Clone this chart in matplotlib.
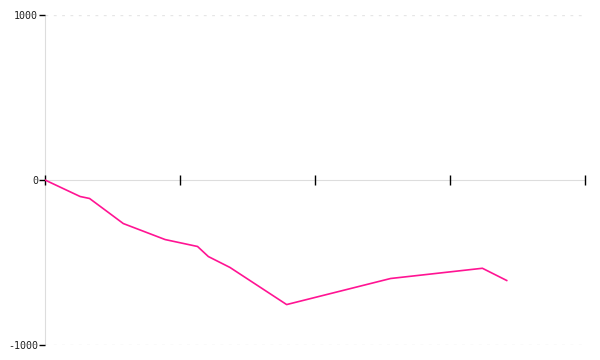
import matplotlib
matplotlib.use("Agg")
from matplotlib import pyplot as plt

# values (x on a 0..400 scale, ticks every 100)
x_vals = [0, 26, 33, 47, 58, 89, 113, 121, 137, 179, 256, 324, 342]
y_vals = [0, -100, -112, -197, -264, -361, -403, -464, -530, -755, -597, -535, -609]
x_ticks = [0, 100, 200, 300, 400]
y_ticks = [-1000, 0, 1000]

plt.rcParams['font.family'] = ['DejaVu Sans Mono']

fig = plt.figure(figsize=(6, 3.6), dpi=100)
ax = fig.add_axes([0.075, 0.0417, 0.9, 0.9166])

# dotted grid at the outer ticks
for v in [-1000, 1000]:
    ax.axhline(v, color='#e6e6e6', linestyle=(0, (2, 4)), linewidth=1, zorder=0)

ax.plot(x_vals, y_vals, color='#ff1493', linewidth=1.2, zorder=3)

ax.set_xlim(0, 400)
ax.set_ylim(-1000, 1000)

ax.spines['top'].set_visible(False)
ax.spines['right'].set_visible(False)
ax.spines['left'].set_color('#dddddd')
ax.spines['bottom'].set_position(('data', 0))
ax.spines['bottom'].set_color('#dddddd')
ax.spines['left'].set_zorder(1)
ax.spines['bottom'].set_zorder(1)

ax.set_xticks(x_ticks)
ax.set_xticklabels([])
ax.tick_params(axis='x', direction='inout', length=7, width=1, color='black')
ax.set_yticks(y_ticks)
ax.set_yticklabels([str(t) for t in y_ticks])
ax.tick_params(axis='y', direction='out', length=4, width=1, color='black',
               labelsize=7.2, pad=1, labelcolor='#222222')

fig.savefig("out.png", dpi=100)
